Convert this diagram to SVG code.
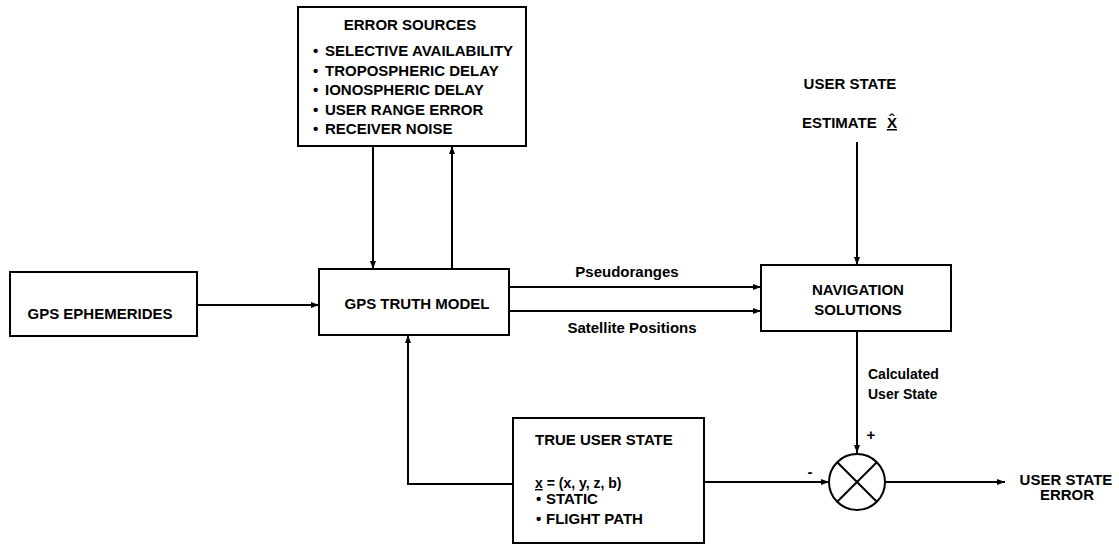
<svg xmlns="http://www.w3.org/2000/svg" width="1119" height="545" viewBox="0 0 1119 545">
<defs>
<marker id="ah" markerWidth="8" markerHeight="6" refX="8" refY="3" orient="auto" markerUnits="userSpaceOnUse">
<path d="M0,0 L8,3 L0,6 Z" fill="#000"/>
</marker>
</defs>
<style>
.box{fill:#fff;stroke:#000;stroke-width:2}
.t{font-family:"Liberation Sans",Arial,sans-serif;font-weight:bold;font-size:15px;fill:#000}
.s{font-family:"Liberation Sans",Arial,sans-serif;font-weight:bold;font-size:14px;fill:#000}
.m{text-anchor:middle}
.c{fill:none;stroke:#000;stroke-width:2}
.a{marker-end:url(#ah)}
</style>
<rect width="1119" height="545" fill="#fff"/>
<g id="connectors">
<line class="c a" x1="373" y1="146" x2="373" y2="269"/>
<line class="c a" x1="452" y1="269" x2="452" y2="146"/>
<line class="c a" x1="197" y1="305" x2="319" y2="305"/>
<line class="c a" x1="509" y1="287" x2="761" y2="287"/>
<line class="c a" x1="509" y1="311" x2="761" y2="311"/>
<line class="c a" x1="857" y1="142" x2="857" y2="265"/>
<line class="c a" x1="857" y1="331" x2="857" y2="453"/>
<polyline class="c a" points="513,484 408,484 408,335"/>
<line class="c a" x1="704" y1="482" x2="829" y2="482"/>
<line class="c a" x1="885" y1="482" x2="1005" y2="482"/>
<text class="t m" x="627" y="277">Pseudoranges</text>
<text class="t m" x="632" y="333">Satellite Positions</text>
<text class="s" x="868" y="379">Calculated</text>
<text class="s" x="868" y="399">User State</text>
<text class="t m" x="871" y="440">+</text>
<text class="t m" x="810" y="477">-</text>
</g>
<g id="error-sources">
<rect class="box" x="298" y="7" width="228" height="139"/>
<text class="t m" x="410" y="30">ERROR SOURCES</text>
<text class="t"><tspan x="313" y="56">•</tspan><tspan x="325" y="56">SELECTIVE AVAILABILITY</tspan></text>
<text class="t"><tspan x="313" y="75.5">•</tspan><tspan x="325" y="75.5">TROPOSPHERIC DELAY</tspan></text>
<text class="t"><tspan x="313" y="95">•</tspan><tspan x="325" y="95">IONOSPHERIC DELAY</tspan></text>
<text class="t"><tspan x="313" y="114.5">•</tspan><tspan x="325" y="114.5">USER RANGE ERROR</tspan></text>
<text class="t"><tspan x="313" y="134">•</tspan><tspan x="325" y="134">RECEIVER NOISE</tspan></text>
</g>
<g id="gps-ephemerides">
<rect class="box" x="10" y="272" width="187" height="64"/>
<text class="t m" x="100" y="319">GPS EPHEMERIDES</text>
</g>
<g id="gps-truth-model">
<rect class="box" x="319" y="269" width="190" height="66"/>
<text class="t m" x="417" y="309">GPS TRUTH MODEL</text>
</g>
<g id="navigation-solutions">
<rect class="box" x="761" y="265" width="190" height="66"/>
<text class="t m" x="858" y="295">NAVIGATION</text>
<text class="t m" x="858" y="315">SOLUTIONS</text>
</g>
<g id="user-state-estimate">
<text class="t m" x="850" y="89">USER STATE</text>
<text class="t" x="802" y="128">ESTIMATE <tspan dx="6" text-decoration="underline">X̂</tspan></text>
</g>
<g id="true-user-state">
<rect class="box" x="513" y="418" width="191" height="125"/>
<text class="t" x="535" y="445">TRUE USER STATE</text>
<text class="s" x="535" y="488"><tspan text-decoration="underline">x</tspan> = (x, y, z, b)</text>
<text class="t"><tspan x="536" y="504">•</tspan><tspan x="546" y="504">STATIC</tspan></text>
<text class="t"><tspan x="536" y="524">•</tspan><tspan x="546" y="524">FLIGHT PATH</tspan></text>
</g>
<g id="summing-junction">
<circle cx="857" cy="482" r="28" fill="#fff" stroke="#000" stroke-width="2"/>
<line class="c" x1="837.2" y1="462.2" x2="876.8" y2="501.8"/>
<line class="c" x1="876.8" y1="462.2" x2="837.2" y2="501.8"/>
</g>
<g id="user-state-error">
<text class="t m" x="1066" y="485">USER STATE</text>
<text class="t m" x="1067" y="500">ERROR</text>
</g>
</svg>
